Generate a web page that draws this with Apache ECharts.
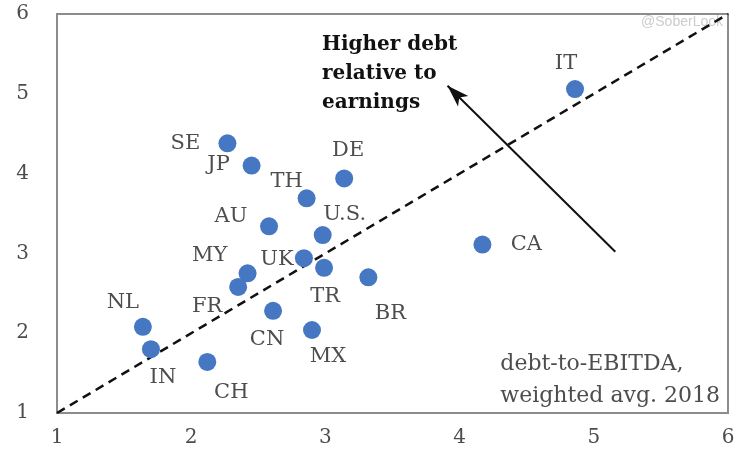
<!DOCTYPE html>
<html>
<head>
<meta charset="utf-8">
<script src="https://cdn.jsdelivr.net/npm/echarts@6/dist/echarts.min.js"></script>
<style>
    html, body {margin: 0; padding: 0; background: #fff;}
    #chart {width: 745px; height: 460px;}
</style>
</head>
<body>
<div id="chart"></div>
<script>
// 数据
var countries = ['IT', 'CA', 'SE', 'JP', 'DE', 'TH', 'AU', 'U.S.', 'UK', 'TR', 'BR', 'MY', 'FR', 'CN', 'MX', 'NL', 'IN', 'CH'];
var xValues = [4.86, 4.17, 2.27, 2.45, 3.14, 2.86, 2.58, 2.98, 2.84, 2.99, 3.32, 2.42, 2.35, 2.61, 2.90, 1.64, 1.70, 2.12];
var yValues = [5.06, 3.11, 4.38, 4.10, 3.94, 3.69, 3.34, 3.23, 2.94, 2.82, 2.70, 2.75, 2.58, 2.28, 2.04, 2.08, 1.80, 1.64];
var axisTicks = [1, 2, 3, 4, 5, 6];
var parityLine = [[1, 1], [6, 6]];
var arrowFrom = [5.16, 3.02];
var arrowTo = [3.91, 5.10];

// 标签偏移 (px)
var labelOffset = {
    'IT': [-9, -25], 'CA': [44, 0], 'SE': [-42, 0], 'JP': [-33, -1],
    'DE': [4, -28], 'TH': [-20, -17], 'AU': [-38, -10], 'U.S.': [22, -20],
    'UK': [-27, 1], 'TR': [1, 29], 'BR': [22, 36], 'MY': [-38, -18],
    'FR': [-31, 20], 'CN': [-6, 29], 'MX': [16, 27], 'NL': [-20, -24],
    'IN': [12, 28], 'CH': [24, 31]
};

var serif = '"DejaVu Serif", "Liberation Serif", serif';

var points = countries.map(function (name, i) {
    return {
        name: name,
        value: [xValues[i], yValues[i]],
        label: {offset: labelOffset[name]}
    };
});

var myChart = echarts.init(document.getElementById('chart'));

var option = {
    backgroundColor: '#fff',
    animation: false,
    grid: {
        left: 57, right: 17, top: 14, bottom: 47,
        containLabel: false,
        outerBoundsMode: 'none',
        show: true,
        borderColor: '#8c8c8c',
        borderWidth: 2
    },
    xAxis: {
        type: 'value',
        min: axisTicks[0],
        max: axisTicks[axisTicks.length - 1],
        interval: 1,
        axisLine: {show: false},
        axisTick: {show: false},
        splitLine: {show: false},
        axisLabel: {
            margin: 15,
            color: '#4d4d4d',
            fontFamily: serif,
            fontSize: 20
        }
    },
    yAxis: {
        type: 'value',
        min: axisTicks[0],
        max: axisTicks[axisTicks.length - 1],
        interval: 1,
        axisLine: {show: false},
        axisTick: {show: false},
        splitLine: {show: false},
        axisLabel: {
            margin: 28,
            color: '#4d4d4d',
            fontFamily: serif,
            fontSize: 20,
            padding: [8, 0, 0, 0]
        }
    },
    graphic: [
        {
            type: 'text',
            left: 322, top: 30,
            style: {
                text: 'Higher debt\nrelative to\nearnings',
                font: 'bold 20px ' + serif,
                lineHeight: 29,
                fill: '#111'
            }
        },
        {
            type: 'text',
            right: 25, top: 348,
            style: {
                text: 'debt-to-EBITDA,\nweighted avg. 2018',
                font: '22px ' + serif,
                lineHeight: 32,
                fill: '#4d4d4d',
                align: 'right'
            }
        },
        {
            type: 'text',
            right: 22, top: 15,
            style: {
                text: '@SoberLook',
                font: '14px "Liberation Sans", sans-serif',
                fill: '#cccccc'
            }
        }
    ],
    series: [
        {
            type: 'line',
            data: parityLine,
            symbol: 'none',
            silent: true,
            z: 1,
            lineStyle: {color: '#111', width: 2.5, type: [9, 6]},
            markLine: {
                silent: true,
                symbol: ['none', 'arrow'],
                symbolSize: [11, 22],
                label: {show: false},
                lineStyle: {color: '#111', width: 2, type: 'solid'},
                data: [[{coord: arrowFrom}, {coord: arrowTo}]]
            }
        },
        {
            type: 'scatter',
            data: points,
            symbolSize: 18,
            z: 3,
            itemStyle: {color: '#4677c2', opacity: 1},
            label: {
                show: true,
                position: 'inside',
                formatter: '{b}',
                color: '#4d4d4d',
                fontFamily: serif,
                fontSize: 21
            }
        }
    ]
};

myChart.setOption(option);
</script>
</body>
</html>
